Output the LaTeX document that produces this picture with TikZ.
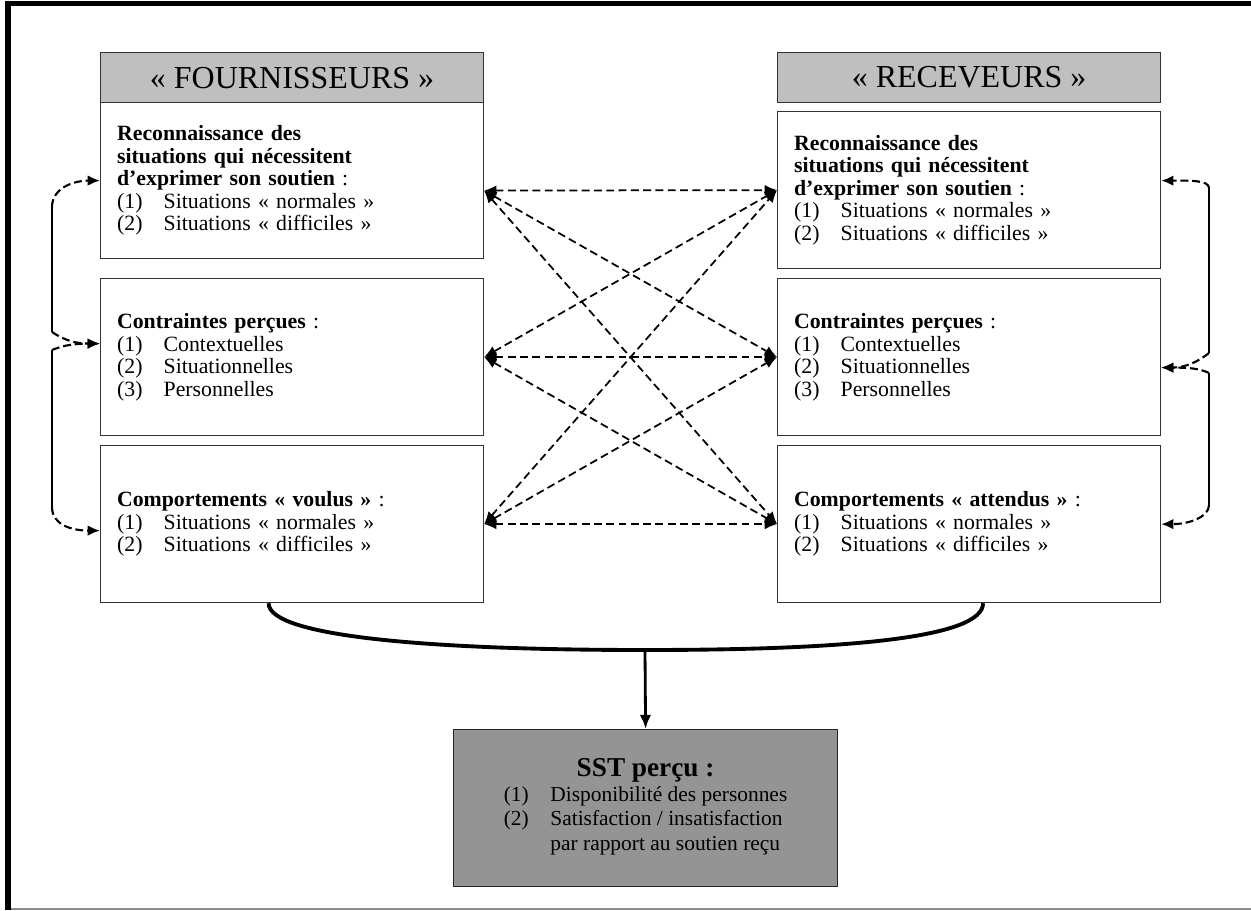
\documentclass[tikz,border=0pt]{standalone}
\usepackage{fontspec}
\setmainfont{Liberation Serif}
\usetikzlibrary{arrows.meta}

\newcommand{\itm}[2]{\makebox[26.5pt][l]{#1}#2}

\tikzset{
  headbox/.style={draw=black!80, line width=0.7pt, fill=black!25, anchor=north west,
    minimum width=7.66cm, minimum height=1cm, font=\fontsize{18.2}{20}\selectfont},
  infobox/.style={draw=black!80, line width=0.7pt, fill=white, anchor=north west,
    minimum width=7.66cm, minimum height=3.14cm, text width=7cm, align=left,
    font=\fontsize{12.4}{12.8}\selectfont},
  sstbox/.style={draw=black!85, line width=0.7pt, fill=black!42, anchor=north west,
    minimum width=7.68cm, minimum height=3.14cm, align=center,
    font=\fontsize{12.2}{14}\selectfont},
  crosslink/.style={{Latex[length=7pt,width=6pt]}-{Latex[length=7pt,width=6pt]},
    line width=1pt, dash pattern=on 4.5pt off 2.5pt},
  sidecurve/.style={-{Latex[length=7pt,width=6pt]}, line width=1.2pt, dash pattern=on 4.5pt off 2.2pt},
  sideline/.style={line width=1.2pt}
}

\begin{document}
\begin{tikzpicture}[x=0.02cm, y=-0.02cm]
  \useasboundingbox (0,0) rectangle (1251,910);

  % Draw the frame
  \draw[line width=3.2pt] (8,910) -- (8,3.5) -- (1251,3.5);
  \draw[black!45, line width=1pt] (11,909) -- (1251,909);

  % Left column
  \node[headbox] (lhead) at (100,52) {« FOURNISSEURS »};
  \node[infobox, minimum height=3.12cm] (l1) at (100,102) {\textbf{Reconnaissance des}\\
    \textbf{situations qui nécessitent}\\ \textbf{d’exprimer son soutien} :\\
    \itm{(1)}{Situations « normales »}\\ \itm{(2)}{Situations « difficiles »}};
  \node[infobox] (l2) at (100,278) {\textbf{Contraintes perçues} :\\
    \itm{(1)}{Contextuelles}\\ \itm{(2)}{Situationnelles}\\ \itm{(3)}{Personnelles}};
  \node[infobox] (l3) at (100,445) {\textbf{Comportements « voulus »} :\\
    \itm{(1)}{Situations « normales »}\\ \itm{(2)}{Situations « difficiles »}};

  % Right column
  \node[headbox] (rhead) at (777,52) {« RECEVEURS »};
  \node[infobox] (r1) at (777,111) {\textbf{Reconnaissance des}\\
    \textbf{situations qui nécessitent}\\ \textbf{d’exprimer son soutien} :\\
    \itm{(1)}{Situations « normales »}\\ \itm{(2)}{Situations « difficiles »}};
  \node[infobox] (r2) at (777,278) {\textbf{Contraintes perçues} :\\
    \itm{(1)}{Contextuelles}\\ \itm{(2)}{Situationnelles}\\ \itm{(3)}{Personnelles}};
  \node[infobox] (r3) at (777,445) {\textbf{Comportements « attendus »} :\\
    \itm{(1)}{Situations « normales »}\\ \itm{(2)}{Situations « difficiles »}};

  % Result box
  \node[sstbox] (sst) at (453,729) {{\fontsize{15.5}{17}\selectfont\textbf{SST perçu :}}\\
    \begin{tabular}{@{}p{26.5pt}@{}l@{}}
      (1) & Disponibilité des personnes\\
      (2) & Satisfaction / insatisfaction\\
          & par rapport au soutien reçu
    \end{tabular}};

  % Draw the links between the two columns
  \coordinate (lx1) at ([yshift=-0.2cm]l1.east);
  \coordinate (lx2) at (l2.east);
  \coordinate (lx3) at (l3.east);
  \foreach \i in {1,2,3} {
    \foreach \j in {1,2,3} {
      \draw[crosslink] (lx\i) -- (r\j.west);
    }
  }

  % Left side links
  \coordinate (ltop) at (52,207);
  \coordinate (lmida) at (52,332);
  \coordinate (lmidb) at (52,350);
  \coordinate (lbot) at (52,507);
  \draw[sideline] (ltop) -- (lmida);
  \draw[sideline] (lmidb) -- (lbot);
  \draw[sidecurve] (ltop) .. controls +(0,-18) and +(-28,0) .. (l1.west);
  \draw[sidecurve] (lmida) .. controls +(12,8) and +(-25,0) .. ([yshift=0.27cm]l2.west);
  \draw[sidecurve] (lmidb) .. controls +(12,-5) and +(-25,0) .. ([yshift=0.27cm]l2.west);
  \draw[sidecurve] (lbot) .. controls +(0,18) and +(-28,0) .. ([yshift=-0.13cm]l3.west);

  % Right side links
  \coordinate (rtop) at (1209,188);
  \coordinate (rmida) at (1209,353);
  \coordinate (rmidb) at (1209,373);
  \coordinate (rbot) at (1209,505);
  \draw[sideline] (rtop) -- (rmida);
  \draw[sideline] (rmidb) -- (rbot);
  \draw[sidecurve] (rtop) .. controls +(0,-8) and +(28,0) .. ([yshift=0.19cm]r1.east);
  \draw[sidecurve] (rmida) .. controls +(-10,8) and +(25,0) .. ([yshift=-0.21cm]r2.east);
  \draw[sidecurve] (rmidb) .. controls +(-10,-5) and +(25,0) .. ([yshift=-0.21cm]r2.east);
  \draw[sidecurve] (rbot) .. controls +(0,12) and +(28,0) .. (r3.east);

  % Join the two columns into the result
  \coordinate (join) at (645,650);
  \draw[line width=2.2pt] ([xshift=-0.47cm]l3.south) .. controls +(0,35) and +(-200,0) .. (join)
    .. controls +(200,0) and +(0,35) .. ([xshift=0.28cm]r3.south);
  \draw[-{Latex[length=8pt,width=6.5pt]}, line width=1.6pt] (join) -- (sst.north);
\end{tikzpicture}
\end{document}
